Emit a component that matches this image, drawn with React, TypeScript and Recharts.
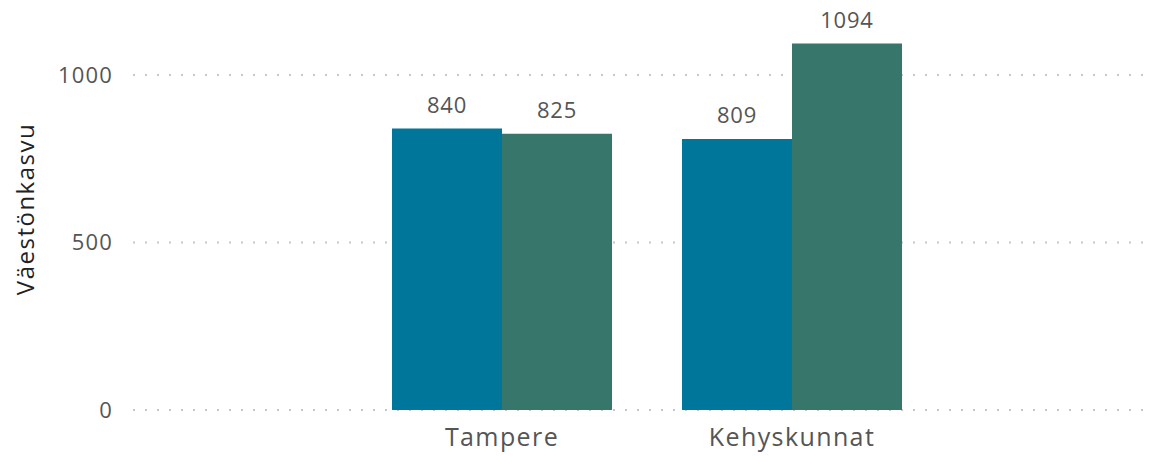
import React from 'react';
import { BarChart, Bar, XAxis, YAxis, CartesianGrid, LabelList, Label } from 'recharts';

// categories and series
const regions = ['Tampere', 'Kehyskunnat'];
const seriesA = [840, 809];
const seriesB = [825, 1094];
const yTicks = [0, 500, 1000];

const data = regions.map((name, i) => ({ name, a: seriesA[i], b: seriesB[i] }));

const FONT = '"Open Sans", sans-serif';

const valueStyle = { fontSize: 22, fill: '#555', fontFamily: FONT, letterSpacing: 0.8 };

export default function App() {
  return (
    <div style={{ position: 'absolute', left: 0, top: 0, width: 1157, height: 456, background: '#fff' }}>
      <BarChart
        width={1157}
        height={456}
        data={data}
        margin={{ top: 8, right: 4, left: 0, bottom: 0 }}
        barCategoryGap={35}
        barGap={0}
      >
        <CartesianGrid
          vertical={false}
          horizontalValues={yTicks}
          stroke="#c8c8c8"
          strokeDasharray="2 10"
          strokeWidth={2}
        />
        <XAxis
          dataKey="name"
          axisLine={false}
          tickLine={false}
          padding={{ left: 224, right: 216 }}
          height={46}
          tickMargin={12}
          tick={{ fontSize: 25, fill: '#555', fontFamily: FONT, letterSpacing: 1.4 }}
        />
        <YAxis
          domain={[0, 1200]}
          ticks={yTicks}
          axisLine={false}
          tickLine={false}
          width={133}
          tickMargin={14}
          tick={{ fontSize: 22, fill: '#555', fontFamily: FONT, letterSpacing: 1.2 }}
        >
          <Label
            value="Väestönkasvu"
            angle={-90}
            position="insideLeft"
            dx={20}
            style={{ fontSize: 24, fill: '#222', fontFamily: FONT, fontWeight: 500, letterSpacing: 1.5, textAnchor: 'middle' }}
          />
        </YAxis>
        <Bar dataKey="a" fill="#00779A" isAnimationActive={false}>
          <LabelList dataKey="a" position="top" offset={16} style={valueStyle} />
        </Bar>
        <Bar dataKey="b" fill="#37766A" isAnimationActive={false}>
          <LabelList dataKey="b" position="top" offset={16} style={valueStyle} />
        </Bar>
      </BarChart>
    </div>
  );
}
